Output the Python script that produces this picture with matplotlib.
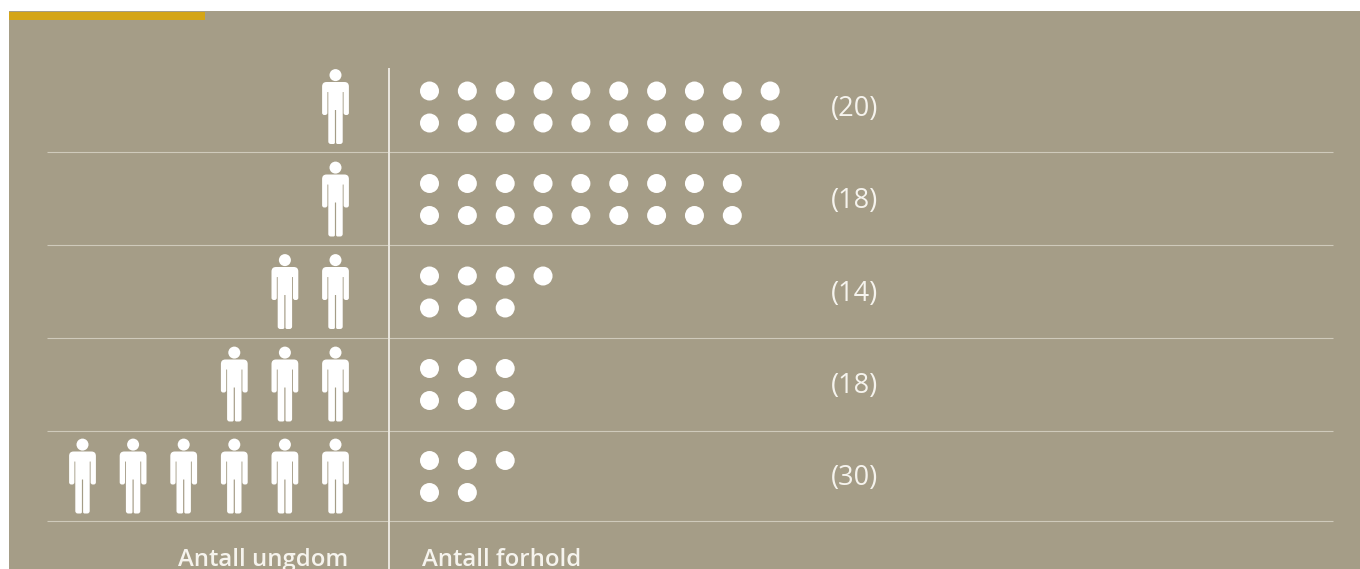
import numpy as np
import matplotlib
matplotlib.use('Agg')
import matplotlib.pyplot as plt
from matplotlib.patches import Circle, PathPatch, Rectangle
from matplotlib.path import Path
from matplotlib.transforms import Affine2D

youth_counts = [1, 1, 2, 3, 6]
relation_counts = [20, 18, 7, 6, 5]
total_labels = ['(20)', '(18)', '(14)', '(18)', '(30)']
left_title = 'Antall ungdom'
right_title = 'Antall forhold'

BG = '#a59d87'
GOLD = '#d4a517'
WHITE = '#ffffff'
RULE = '#cfcabb'
DIVIDER = '#ebe8e0'
FONT = 'Open Sans'

row_centers = [106.5, 199, 291.5, 384, 476]
rule_ys = [151.5, 245, 337.5, 431, 521]


def rounded_polygon(points, radius):
    verts, codes = [], []
    n = len(points)
    for i in range(n):
        p = np.array(points[i][:2], float)
        r = points[i][2] if len(points[i]) > 2 else radius
        prev = np.array(points[i - 1][:2], float)
        nxt = np.array(points[(i + 1) % n][:2], float)
        a = p + (prev - p) / np.linalg.norm(prev - p) * r
        b = p + (nxt - p) / np.linalg.norm(nxt - p) * r
        verts.append(a)
        codes.append(Path.MOVETO if i == 0 else Path.LINETO)
        verts += [p, b]
        codes += [Path.CURVE3, Path.CURVE3]
    verts.append(verts[0])
    codes.append(Path.CLOSEPOLY)
    return Path(verts, codes)


def person_path():
    # pixel units around the figure centre, y pointing down
    head = Path.circle((0, -31.4), 6.0)
    half = [(-13.4, -24.5, 4.5), (13.4, -24.5, 4.5), (13.4, 8.5, 2.2), (8.1, 8.5, 2.2),
            (8.1, -14.5, 0.3), (7.2, -14.5, 0.3), (7.2, 37.5, 2.5), (0.6, 37.5, 1.5),
            (0.6, 3.5, 0.2), (-0.6, 3.5, 0.2), (-0.6, 37.5, 1.5), (-7.2, 37.5, 2.5),
            (-7.2, -14.5, 0.3), (-8.1, -14.5, 0.3), (-8.1, 8.5, 2.2), (-13.4, 8.5, 2.2)]
    return Path.make_compound_path(head, rounded_polygon(half, 1))


fig = plt.figure(figsize=(13.6, 5.69), dpi=100, facecolor='white')
ax = fig.add_axes([0, 0, 1, 1])
ax.set_xlim(0, 1360)
ax.set_ylim(569, 0)
ax.axis('off')

ax.add_patch(Rectangle((9, 11), 1351, 558, color=BG, lw=0))
ax.add_patch(Rectangle((9, 12), 196, 8, color=GOLD, lw=0))

for y in rule_ys:
    ax.plot([47, 1333], [y, y], color=RULE, lw=0.8, solid_capstyle='butt')
ax.plot([388.5, 388.5], [68, 569], color=DIVIDER, lw=1.4, solid_capstyle='butt')

person = person_path()
for cy, n_youth, n_rel, label in zip(row_centers, youth_counts, relation_counts, total_labels):
    for i in range(n_youth):
        tr = Affine2D().translate(335.5 - i * 50.6, cy) + ax.transData
        ax.add_patch(PathPatch(person, facecolor=WHITE, edgecolor='none', transform=tr))
    n_top = (n_rel + 1) // 2
    for i in range(n_rel):
        col = i if i < n_top else i - n_top
        dy = -15.5 if i < n_top else 16.5
        ax.add_patch(Circle((429.5 + col * 37.85, cy + dy), 9.5, facecolor=WHITE, edgecolor='none'))
    ax.text(830.5, cy + 9, label, color='#f6f4ee', fontsize=19.5, family=FONT, va='baseline', ha='left')

ax.text(348, 566, left_title, color='#f6f4ee', fontsize=17.2, family=FONT, weight='semibold',
        va='baseline', ha='right')
ax.text(422, 566, right_title, color='#f6f4ee', fontsize=17.2, family=FONT, weight='semibold',
        va='baseline', ha='left')

fig.savefig('out.png', dpi=100)
